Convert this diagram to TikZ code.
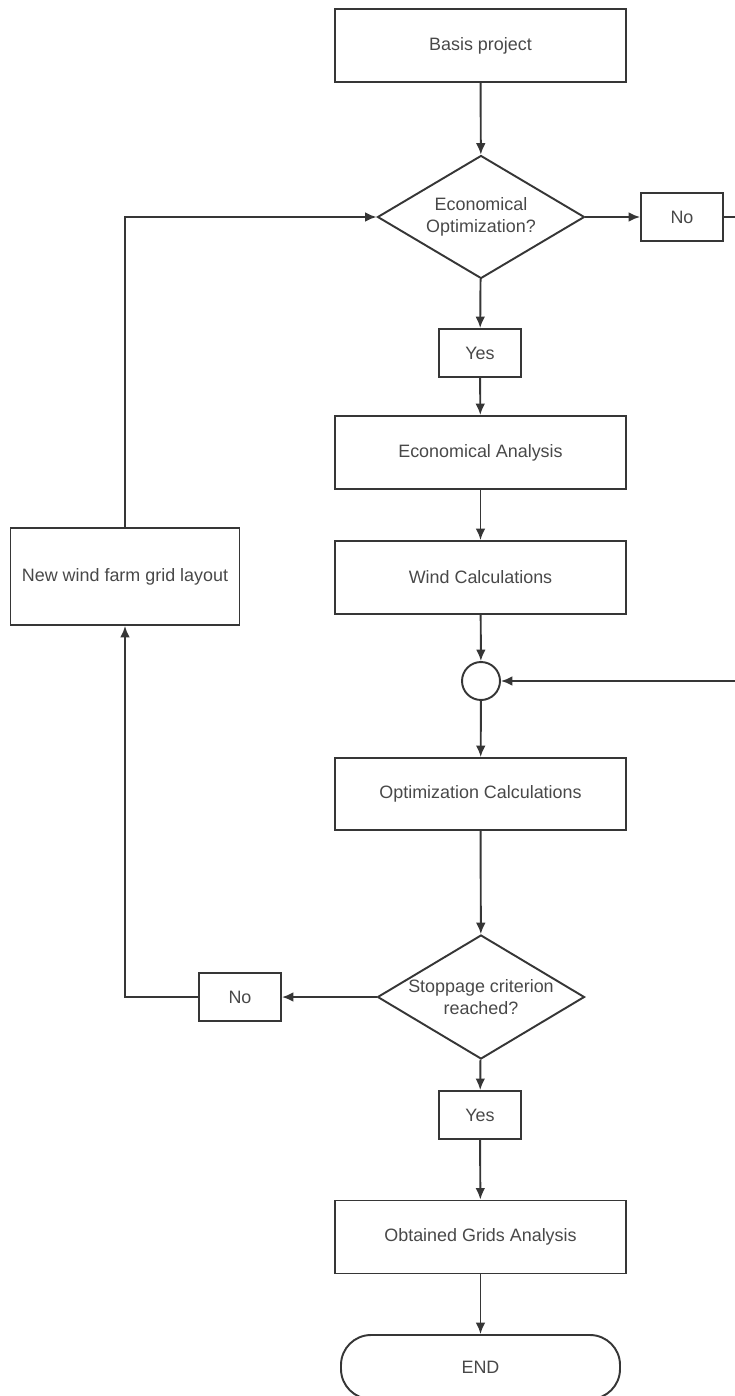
\documentclass[tikz,border=0pt]{standalone}
\usepackage{fontspec}
\setmainfont{Liberation Sans}
\usetikzlibrary{arrows.meta,shapes}

\definecolor{linegray}{HTML}{363636}
\definecolor{textgray}{HTML}{484848}

\tikzset{
	box/.style={draw=linegray, line width=1.1pt, rectangle, minimum width=5.82cm, minimum height=1.46cm, inner sep=0pt},
	smallbox/.style={draw=linegray, line width=1.1pt, rectangle, minimum width=1.64cm, minimum height=0.96cm, inner sep=0pt},
	decision/.style={draw=linegray, line width=1.1pt, diamond, shape aspect=1.68, minimum width=4.14cm, minimum height=2.46cm, inner sep=-2pt, align=center},
	terminal/.style={draw=linegray, line width=1.1pt, rectangle, rounded corners=0.6cm, minimum width=5.58cm, minimum height=1.28cm, inner sep=0pt},
	joint/.style={draw=linegray, line width=1.1pt, circle, minimum size=0.76cm, inner sep=0pt},
	flow/.style={-{Latex[length=6.5pt,width=5.5pt]}, draw=linegray, line width=1.1pt}
}

\begin{document}
\begin{tikzpicture}[every node/.style={text=textgray, font=\fontsize{10.2}{12.5}\selectfont}]

	\useasboundingbox (0,0) rectangle (14.7,-27.92);

	% main column
	\node(basis)[box] at (9.61,-0.91) {Basis project};
	\node(econopt)[decision] at (9.62,-4.34) {Economical\\Optimization?};
	\node(noecon)[smallbox] at (13.64,-4.34) {No};
	\node(yesecon)[smallbox] at (9.6,-7.06) {Yes};
	\node(econan)[box] at (9.61,-9.05) {Economical Analysis};
	\node(windcalc)[box] at (9.61,-11.55) {Wind Calculations};
	\node(join)[joint] at (9.62,-13.62) {};
	\node(optcalc)[box, minimum height=1.44cm] at (9.61,-15.88) {Optimization Calculations};
	\node(stopcrit)[decision, minimum height=2.48cm] at (9.62,-19.94) {Stoppage criterion\\reached?};
	\node(yesstop)[smallbox] at (9.6,-22.3) {Yes};
	\node(gridan)[box] at (9.61,-24.74) {Obtained Grids Analysis};
	\node(finish)[terminal] at (9.61,-27.34) {END};
	% loop on the left
	\node(nostop)[smallbox] at (4.8,-19.94) {No};
	\node(newgrid)[box, minimum width=4.58cm, minimum height=1.94cm] at (2.5,-11.53) {New wind farm grid layout};

	% free ends at the right border
	\coordinate(noout) at (14.7,-4.34);
	\coordinate(loopin) at (14.7,-13.62);

	% downwards
	\draw[flow] (basis) -- (econopt);
	\draw[flow] (econopt) -- (yesecon);
	\draw[flow] (yesecon) -- (econan);
	\draw[flow] (econan) -- (windcalc);
	\draw[flow] (windcalc) -- (join);
	\draw[flow] (join) -- (optcalc);
	\draw[flow] (optcalc) -- (stopcrit);
	\draw[flow] (stopcrit) -- (yesstop);
	\draw[flow] (yesstop) -- (gridan);
	\draw[flow] (gridan) -- (finish);
	% sideways
	\draw[flow] (econopt.east) -- (noecon.west);
	\draw[draw=linegray, line width=1.1pt] (noecon.east) -- (noout);
	\draw[flow] (loopin) -- (join.east);
	\draw[flow] (stopcrit.west) -- (nostop.east);
	\draw[flow] (nostop.west) -| (newgrid.south);
	\draw[flow] (newgrid.north) |- (econopt.west);

\end{tikzpicture}
\end{document}
